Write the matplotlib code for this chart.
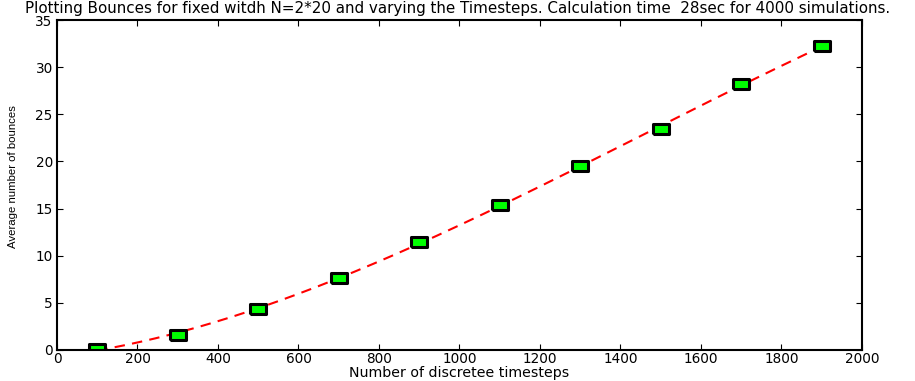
import numpy as np
import matplotlib
matplotlib.use('Agg')
import matplotlib.pyplot as plt
from matplotlib.markers import MarkerStyle

# average bounces measured for each number of timesteps
timesteps = [100, 300, 500, 700, 900, 1100, 1300, 1500, 1700, 1900]
bounces = [0.1, 1.6, 4.4, 7.6, 11.45, 15.4, 19.5, 23.4, 28.2, 32.2]
x_ticks = list(range(0, 2001, 200))
y_ticks = list(range(0, 36, 5))

plt.rcParams['font.family'] = ['DejaVu Sans']

fig = plt.figure(figsize=(9.15, 3.81), dpi=100)
ax = fig.add_axes([0.0623, 0.0814, 0.8797, 0.8661])

# polynomial fit through the measurements
coef = np.polyfit(timesteps, bounces, 3)
xs = np.linspace(timesteps[0], timesteps[-1], 300)
ax.plot(xs, np.polyval(coef, xs), color='red', lw=1.5, dashes=(5, 3.5))

rect = MarkerStyle([(-1, -0.62), (1, -0.62), (1, 0.62), (-1, 0.62), (-1, -0.62)],
                   joinstyle='miter')
ax.plot(timesteps, bounces, ls='none', marker=rect, markersize=11.5,
        markerfacecolor=(0, 1, 0), markeredgecolor='black', markeredgewidth=2.2)

ax.set_xlim(0, 2000)
ax.set_ylim(0, 35)
ax.set_xticks(x_ticks)
ax.set_yticks(y_ticks)
ax.tick_params(direction='in', length=4, width=0.8, top=True, right=True,
               labelsize=9.8, pad=3)
ax.tick_params(axis='x', pad=1.5)
for s in ax.spines.values():
    s.set_linewidth(1.5)

ax.set_xlabel('Number of discretee timesteps', fontsize=10.2, labelpad=0)
ax.set_ylabel('Average number of bounces', family=['Liberation Sans'], fontsize=8.2)
ax.yaxis.set_label_coords(-0.048, 0.527)
fig.text(0.5, 0.978, 'Plotting Bounces for fixed witdh N=2*20 and varying the Timesteps. '
         'Calculation time  28sec for 4000 simulations.',
         ha='center', va='center', fontsize=10.9)

fig.savefig('out.png', dpi=100)
